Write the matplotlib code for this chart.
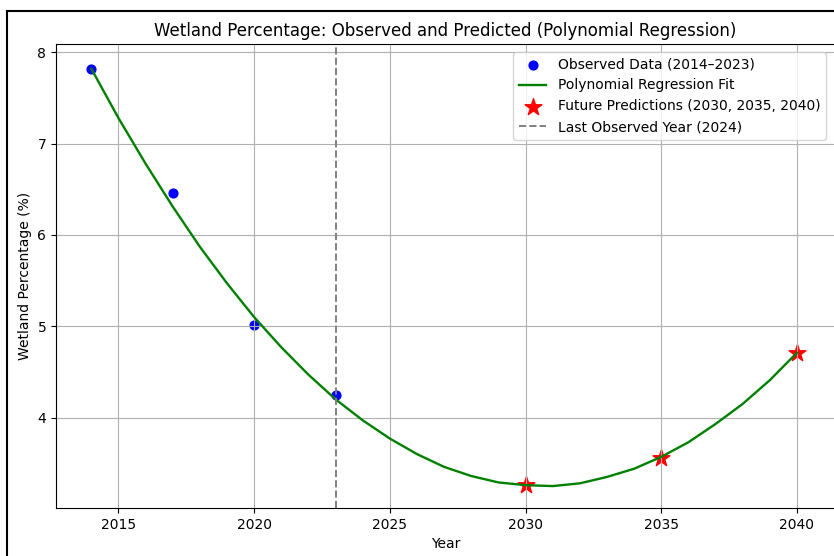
import matplotlib
matplotlib.use("Agg")
import matplotlib.pyplot as plt
from matplotlib.patches import Rectangle

# observed wetland percentage
obs_years = [2014, 2017, 2020, 2023]
obs_pct = [7.82, 6.46, 5.01, 4.25]

# polynomial fit curve (one value per year)
fit_years = list(range(2014, 2041))
fit_pct = [7.82, 7.28, 6.78, 6.31, 5.87, 5.47, 5.10, 4.77, 4.47, 4.20,
           3.97, 3.77, 3.60, 3.46, 3.36, 3.29, 3.26, 3.25, 3.28, 3.35,
           3.44, 3.57, 3.73, 3.93, 4.15, 4.41, 4.71]

# predictions
pred_years = [2030, 2035, 2040]
pred_pct = [3.26, 3.56, 4.71]

last_year = 2023

W, H = 834, 556
fig = plt.figure(figsize=(W / 100, H / 100), dpi=100)
ax = fig.add_axes([56 / W, (H - 508) / H, (835 - 56) / W, (508 - 44) / H])

# frame of the original (cropped) figure
fig.patches.append(Rectangle((7 / W, -0.1), 1.2, (H - 11) / H + 0.1,
                             transform=fig.transFigure, fill=False,
                             edgecolor="black", linewidth=1.5))

ax.scatter(obs_years, obs_pct, color="blue", s=40,
           label="Observed Data (2014\u20132023)")
ax.plot(fit_years, fit_pct, color="green", linewidth=1.7,
        label="Polynomial Regression Fit")
ax.scatter(pred_years, pred_pct, color="red", marker="*", s=160,
           label="Future Predictions (2030, 2035, 2040)")
ax.axvline(last_year, color="gray", linestyle="--", linewidth=1.4,
           label="Last Observed Year (2024)")

ax.set_xlim(2012.7, 2041.4)
ax.set_ylim(3.01, 8.09)
ax.set_xticks([2015, 2020, 2025, 2030, 2035, 2040])
ax.set_yticks([4, 5, 6, 7, 8])
ax.grid(True)

ax.set_title("Wetland Percentage: Observed and Predicted (Polynomial Regression)",
             fontsize=12)
ax.set_xlabel("Year")
ax.set_ylabel("Wetland Percentage (%)")
ax.legend(loc="upper right", bbox_to_anchor=(0.997, 0.998))

fig.savefig("out.png", dpi=100)
